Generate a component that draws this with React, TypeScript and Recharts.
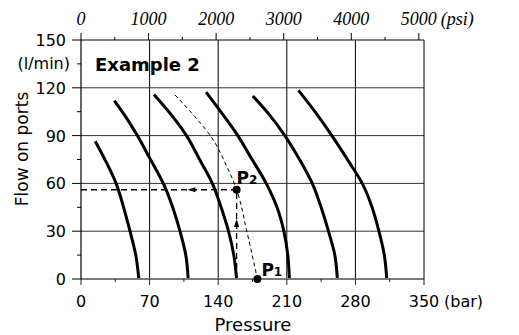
import React from 'react';
import { ComposedChart, Line, XAxis, YAxis, ReferenceLine, Scatter } from 'recharts';

// ---- tick values ----
const barTicks = [0, 35, 70, 105, 140, 175, 210, 245, 280, 315, 350];
const barLabels = [0, 70, 140, 210, 280, 350];
const psiTicks = [0, 500, 1000, 1500, 2000, 2500, 3000, 3500, 4000, 4500, 5000];
const psiLabels = [0, 1000, 2000, 3000, 4000, 5000];
const lpmTicks = [0, 15, 30, 45, 60, 75, 90, 105, 120, 135, 150];
const lpmLabels = [0, 30, 60, 90, 120, 150];
const gpmTicks = [0, 4, 8, 12, 16, 20, 24, 28, 32, 36];
const gpmLabels = [0, 8, 16, 24, 32];
const gridBar = [70, 140, 210, 280];
const gridLpm = [30, 60, 90, 120];

// ---- curves: p = pressure (bar), q = flow (l/min) ----
const curve1 = [
  { p: 14.5, q: 86.5 }, { p: 25.5, q: 73.7 }, { p: 35.8, q: 60 }, { p: 43.8, q: 44.2 },
  { p: 50, q: 30 }, { p: 56, q: 14.7 }, { p: 59, q: 0 },
];
const curve2 = [
  { p: 34, q: 112 }, { p: 46.5, q: 101 }, { p: 57.5, q: 90 }, { p: 70, q: 76 },
  { p: 84, q: 60 }, { p: 94, q: 44.2 }, { p: 101, q: 30 }, { p: 107, q: 14.7 }, { p: 109.4, q: 0 },
];
const curve3 = [
  { p: 74.4, q: 115.8 }, { p: 94.8, q: 101 }, { p: 107.7, q: 90 }, { p: 121, q: 75 },
  { p: 134, q: 60 }, { p: 143.4, q: 44.2 }, { p: 150.5, q: 30 }, { p: 156, q: 14.7 }, { p: 158.7, q: 0 },
];
const curve4 = [
  { p: 127.6, q: 117.3 }, { p: 145, q: 103 }, { p: 160, q: 90 }, { p: 172.6, q: 77 },
  { p: 189, q: 60 }, { p: 200, q: 45 }, { p: 207, q: 30 }, { p: 211, q: 15 }, { p: 212.7, q: 0 },
];
const curve5 = [
  { p: 175.3, q: 114.9 }, { p: 191.3, q: 103.8 }, { p: 208, q: 90 }, { p: 223, q: 75 },
  { p: 236, q: 60 }, { p: 245, q: 45 }, { p: 252.5, q: 30 }, { p: 259, q: 15 }, { p: 261.6, q: 0 },
];
const curve6 = [
  { p: 221.9, q: 118.4 }, { p: 240, q: 104 }, { p: 256, q: 90 }, { p: 275, q: 72 },
  { p: 287, q: 60 }, { p: 297, q: 45 }, { p: 304, q: 30 }, { p: 309.5, q: 15 }, { p: 312, q: 0 },
];
const dashedCurve = [
  { p: 95.8, q: 115.6 }, { p: 116, q: 102 }, { p: 132, q: 90 }, { p: 148.5, q: 71 }, { p: 158.8, q: 56 },
  { p: 168.8, q: 31 }, { p: 180, q: 0 },
];
const pathHorizontal = [{ p: 0, q: 56 }, { p: 158.8, q: 56 }];
const pathVertical = [{ p: 158.8, q: 0 }, { p: 158.8, q: 56 }];
const arrowLeft = [{ p: 112.7, q: 56 }];
const arrowUp = [{ p: 158.8, q: 35.2 }];
const pointP1 = [{ p: 180, q: 0, label: 'P', sub: '1' }];
const pointP2 = [{ p: 158.8, q: 56, label: 'P', sub: '2' }];

const solidCurves = [curve1, curve2, curve3, curve4, curve5, curve6];
// invisible anchor series so the psi axis has data bound to it
const psiAnchor = psiTicks.map((v) => ({ psi: v, q: 0 }));

const SANS = '"DejaVu Sans", Verdana, sans-serif';
const SERIF = '"Liberation Serif", "Times New Roman", serif';

const BAR_MAX = 350;
const PSI_MAX = 350 * 14.5038;
const LPM_MAX = 150;
const GPM_MAX = 150 / 3.78541;

function BottomTick(props: any) {
  const { x, y, payload } = props;
  const v = payload.value;
  const major = barLabels.includes(v);
  return (
    <g>
      <line x1={x} y1={y} x2={x} y2={y + (major ? 6 : 3)} stroke="#222" strokeWidth={1} />
      {major && (
        <text x={x} y={y + 28} textAnchor="middle" fontFamily={SANS} fontSize={16} fill="#000">
          {v}
        </text>
      )}
      {v === 350 && (
        <text x={x + 20} y={y + 28} textAnchor="start" fontFamily={SANS} fontSize={16} fill="#000">
          (bar)
        </text>
      )}
    </g>
  );
}

function TopTick(props: any) {
  const { x, y, payload } = props;
  const v = payload.value;
  const major = psiLabels.includes(v);
  return (
    <g>
      <line x1={x} y1={y} x2={x} y2={y - (major ? 7 : 3)} stroke="#000" strokeWidth={1} />
      {major && (
        <text x={x} y={y - 15} textAnchor="middle" fontFamily={SERIF} fontStyle="italic" fontSize={18} fill="#000">
          {v}
        </text>
      )}
      {v === 5000 && (
        <text x={x + 22} y={y - 15} textAnchor="start" fontFamily={SERIF} fontStyle="italic" fontSize={18} fill="#000">
          (psi)
        </text>
      )}
    </g>
  );
}

function LeftTick(props: any) {
  const { x, y, payload } = props;
  const v = payload.value;
  const major = lpmLabels.includes(v);
  return (
    <g>
      <line x1={x} y1={y} x2={x - (major ? 9 : 4)} y2={y} stroke="#000" strokeWidth={1} />
      {major && (
        <text x={x - 15} y={y + 6} textAnchor="end" fontFamily={SANS} fontSize={16} fill="#000">
          {v}
        </text>
      )}
      {v === 135 && (
        <text x={x - 11} y={y + 5} textAnchor="end" fontFamily={SANS} fontSize={16} fill="#000">
          (l/min)
        </text>
      )}
    </g>
  );
}

function RightTick(props: any) {
  const { x, y, payload } = props;
  const v = payload.value;
  const major = gpmLabels.includes(v);
  return (
    <g>
      <line x1={x} y1={y} x2={x + (major ? 7 : 5)} y2={y} stroke="#000" strokeWidth={1} />
      {major && (
        <text x={x + 13} y={y + 7} textAnchor="start" fontFamily={SERIF} fontStyle="italic" fontSize={18} fill="#000">
          {v}
        </text>
      )}
      {v === 36 && (
        <text x={x + 8} y={y + 6} textAnchor="start" fontFamily={SERIF} fontStyle="italic" fontSize={18} fill="#000">
          (US gpm)
        </text>
      )}
    </g>
  );
}

function ArrowLeftShape(props: any) {
  const { cx, cy } = props;
  return <polygon points={`${cx - 4},${cy} ${cx + 4},${cy - 2.6} ${cx + 4},${cy + 2.6}`} fill="#000" />;
}

function ArrowUpShape(props: any) {
  const { cx, cy } = props;
  return <polygon points={`${cx},${cy - 4} ${cx - 2.6},${cy + 4} ${cx + 2.6},${cy + 4}`} fill="#000" />;
}

function makePointShape(dx: number, dy: number) {
  return function PointShape(props: any) {
    const { cx, cy, payload } = props;
    return (
      <g>
        <circle cx={cx} cy={cy} r={4} fill="#000" />
        <text x={cx + dx} y={cy + dy} fontFamily={SANS} fontWeight="bold" fontSize={17} fill="#000">
          {payload.label}
          <tspan fontSize={12}>{payload.sub}</tspan>
        </text>
      </g>
    );
  };
}
const P1Shape = makePointShape(4, -3);
const P2Shape = makePointShape(0, -6);

export default function App() {
  return (
    <div style={{ position: 'absolute', left: 0, top: 0, width: 519, height: 335, background: '#fff' }}>
      <ComposedChart width={519} height={335} margin={{ top: 39, right: 94, bottom: 55, left: 80 }}>
        <XAxis
          xAxisId="bar"
          dataKey="p"
          type="number"
          domain={[0, BAR_MAX]}
          ticks={barTicks}
          interval={0}
          orientation="bottom"
          height={1}
          tickSize={0}
          tickMargin={0}
          tickLine={false}
          tick={BottomTick}
          axisLine={{ stroke: '#7a7a7a', strokeWidth: 2 }}
        />
        <XAxis
          xAxisId="psi"
          dataKey="psi"
          type="number"
          domain={[0, PSI_MAX]}
          ticks={psiTicks}
          interval={0}
          orientation="top"
          height={1}
          tickSize={0}
          tickMargin={0}
          tickLine={false}
          tick={TopTick}
          axisLine={{ stroke: '#000', strokeWidth: 1 }}
        />
        <YAxis
          yAxisId="lpm"
          dataKey="q"
          type="number"
          domain={[0, LPM_MAX]}
          ticks={lpmTicks}
          interval={0}
          orientation="left"
          width={1}
          tickSize={0}
          tickMargin={0}
          tickLine={false}
          tick={LeftTick}
          axisLine={{ stroke: '#000', strokeWidth: 1.2 }}
        />
        <YAxis
          yAxisId="gpm"
          type="number"
          domain={[0, GPM_MAX]}
          ticks={gpmTicks}
          interval={0}
          orientation="right"
          width={1}
          tickSize={0}
          tickMargin={0}
          tickLine={false}
          tick={RightTick}
          axisLine={{ stroke: '#000', strokeWidth: 1 }}
        />

        {gridBar.map((v) => (
          <ReferenceLine key={'gx' + v} x={v} xAxisId="bar" yAxisId="lpm" stroke="#000" strokeWidth={1} />
        ))}
        {gridLpm.map((v) => (
          <ReferenceLine key={'gy' + v} y={v} xAxisId="bar" yAxisId="lpm" stroke="#333" strokeWidth={1} />
        ))}

        <Line
          data={psiAnchor}
          dataKey="q"
          xAxisId="psi"
          yAxisId="lpm"
          stroke="none"
          strokeWidth={0}
          dot={false}
          activeDot={false}
          legendType="none"
          isAnimationActive={false}
        />

        {solidCurves.map((c, i) => (
          <Line
            key={'c' + i}
            data={c}
            dataKey="q"
            xAxisId="bar"
            yAxisId="lpm"
            type="monotoneY"
            stroke="#000"
            strokeWidth={3}
            dot={false}
            activeDot={false}
            isAnimationActive={false}
          />
        ))}
        <Line
          data={dashedCurve}
          dataKey="q"
          xAxisId="bar"
          yAxisId="lpm"
          type="monotoneY"
          stroke="#000"
          strokeWidth={1}
          strokeDasharray="4 3"
          dot={false}
          activeDot={false}
          isAnimationActive={false}
        />
        <Line
          data={pathHorizontal}
          dataKey="q"
          xAxisId="bar"
          yAxisId="lpm"
          type="linear"
          stroke="#000"
          strokeWidth={1.3}
          strokeDasharray="6 4"
          dot={false}
          activeDot={false}
          isAnimationActive={false}
        />
        <Line
          data={pathVertical}
          dataKey="q"
          xAxisId="bar"
          yAxisId="lpm"
          type="linear"
          stroke="#000"
          strokeWidth={1.3}
          strokeDasharray="6 4"
          dot={false}
          activeDot={false}
          isAnimationActive={false}
        />
        <Scatter data={arrowLeft} dataKey="q" xAxisId="bar" yAxisId="lpm" shape={ArrowLeftShape} isAnimationActive={false} />
        <Scatter data={arrowUp} dataKey="q" xAxisId="bar" yAxisId="lpm" shape={ArrowUpShape} isAnimationActive={false} />
        <Scatter data={pointP1} dataKey="q" xAxisId="bar" yAxisId="lpm" shape={P1Shape} isAnimationActive={false} />
        <Scatter data={pointP2} dataKey="q" xAxisId="bar" yAxisId="lpm" shape={P2Shape} isAnimationActive={false} />
      </ComposedChart>
      <svg
        width={519}
        height={335}
        style={{ position: 'absolute', left: 0, top: 0, pointerEvents: 'none' }}
      >
        <text x={95} y={71} fontFamily={SANS} fontWeight="bold" fontSize={18} fill="#000">
          Example 2
        </text>
        <text x={253} y={331} textAnchor="middle" fontFamily={SANS} fontSize={18} fill="#000">
          Pressure
        </text>
        <text
          x={28}
          y={149}
          textAnchor="middle"
          fontFamily={SANS}
          fontSize={17}
          fill="#000"
          transform="rotate(-90 28 149)"
        >
          Flow on ports
        </text>
      </svg>
    </div>
  );
}
